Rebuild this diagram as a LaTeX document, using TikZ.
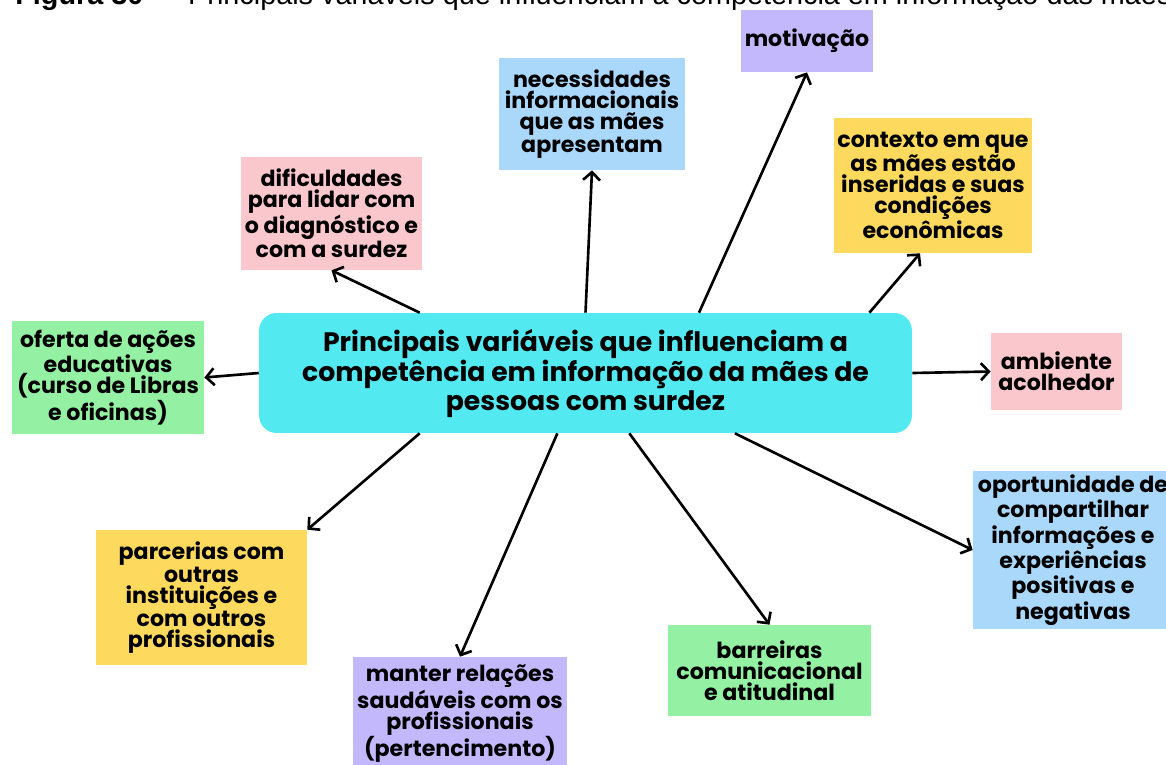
\documentclass[tikz,border=0pt]{standalone}
\usepackage{fontspec}
\setmainfont{Poppins}
\newfontfamily\capfont{Liberation Sans}
\usepackage{xcolor}
\usepackage{tikz}
\usetikzlibrary{arrows.meta}
\definecolor{cCyan}{HTML}{52E9F0}
\definecolor{cPurple}{HTML}{C4B8FC}
\definecolor{cBlue}{HTML}{AAD8FB}
\definecolor{cYellow}{HTML}{FDD95E}
\definecolor{cPink}{HTML}{FAC7CC}
\definecolor{cGreen}{HTML}{94F0A2}

\begin{document}
\begin{tikzpicture}[
  x=0.02cm, y=-0.02cm,
  card/.style={align=center, inner sep=2pt, font=\bfseries\fontsize{12.6pt}{11.9pt}\selectfont},
  hub/.style={fill=cCyan, rounded corners=10pt, align=center, minimum width=13.06cm, minimum height=2.4cm, font=\bfseries\fontsize{15.2pt}{14.7pt}\selectfont},
  arr/.style={-{Straight Barb[length=1.6mm,width=3.4mm]}, line width=1.5pt, black}]
\useasboundingbox (0,0) rectangle (1166,764);
\clip (0,0) rectangle (1166,764);
% caption, cut by the page edge
\node[anchor=base west, inner sep=0pt, font=\capfont\fontsize{16.4pt}{18pt}\selectfont] (cap) at (15,4.5)
  {\textbf{Figura 30} --- Principais variáveis que influenciam a competência em informação das mães};
% central idea
\node[hub] (cent) at (585.5,373) {Principais variáveis que influenciam a\\competência em informação da mães de\\pessoas com surdez};
% factors
\node[card, fill=cPurple, minimum width=2.6cm, minimum height=1.24cm] (motiv) at (807,41) {motivação};
\node[card, fill=cBlue, minimum width=3.72cm, minimum height=2.24cm] (necess) at (592,114) {necessidades\\informacionais\\que as mães\\apresentam};
\node[card, fill=cYellow, minimum width=3.92cm, minimum height=2.7cm] (ctx) at (933,185.5) {contexto em que\\as mães estão\\inseridas e suas\\condições\\econômicas};
\node[card, fill=cPink, minimum width=3.58cm, minimum height=2.26cm] (dific) at (331.5,213.5) {dificuldades\\para lidar com\\o diagnóstico e\\com a surdez};
\node[card, fill=cGreen, minimum width=3.84cm, minimum height=2.26cm] (ofer) at (108,377.5) {oferta de ações\\educativas\\(curso de Libras\\e oficinas)};
\node[card, fill=cPink, minimum width=2.62cm, minimum height=1.54cm] (amb) at (1056.5,371.5) {ambiente\\acolhedor};
\node[card, fill=cBlue, minimum width=4cm, minimum height=3.12cm] (oport) at (1073,550) {oportunidade de\\compartilhar\\informações e\\experiências\\positivas e\\negativas};
\node[card, fill=cYellow, minimum width=4.22cm, minimum height=2.7cm] (parc) at (201.5,597.5) {parcerias com\\outras\\instituições e\\com outros\\profissionais};
\node[card, fill=cPurple, minimum width=4.28cm, minimum height=2.28cm] (mant) at (460,714) {manter relações\\saudáveis com os\\profissionais\\(pertencimento)};
\node[card, fill=cGreen, minimum width=4.06cm, minimum height=1.82cm] (barr) at (769.5,670.5) {barreiras\\comunicacional\\e atitudinal};
% arrows
\draw[arr] (cent.160.1) -- (dific.south);
\draw[arr] (cent.90.5) -- (necess.south);
\draw[arr] (cent.28.3) -- (motiv.south);
\draw[arr] (cent.12.4) -- ([xshift=-2.6mm]ctx.south);
\draw[arr] (cent.east) -- (amb.west);
\draw[arr] (cent.west) -- (ofer.east);
\draw[arr] (cent.200.5) -- (parc.north east);
\draw[arr] (cent.245.4) -- (mant.north);
\draw[arr] (cent.306.6) -- (barr.north);
\draw[arr] (cent.338.1) -- (oport.west);
\end{tikzpicture}
\end{document}
